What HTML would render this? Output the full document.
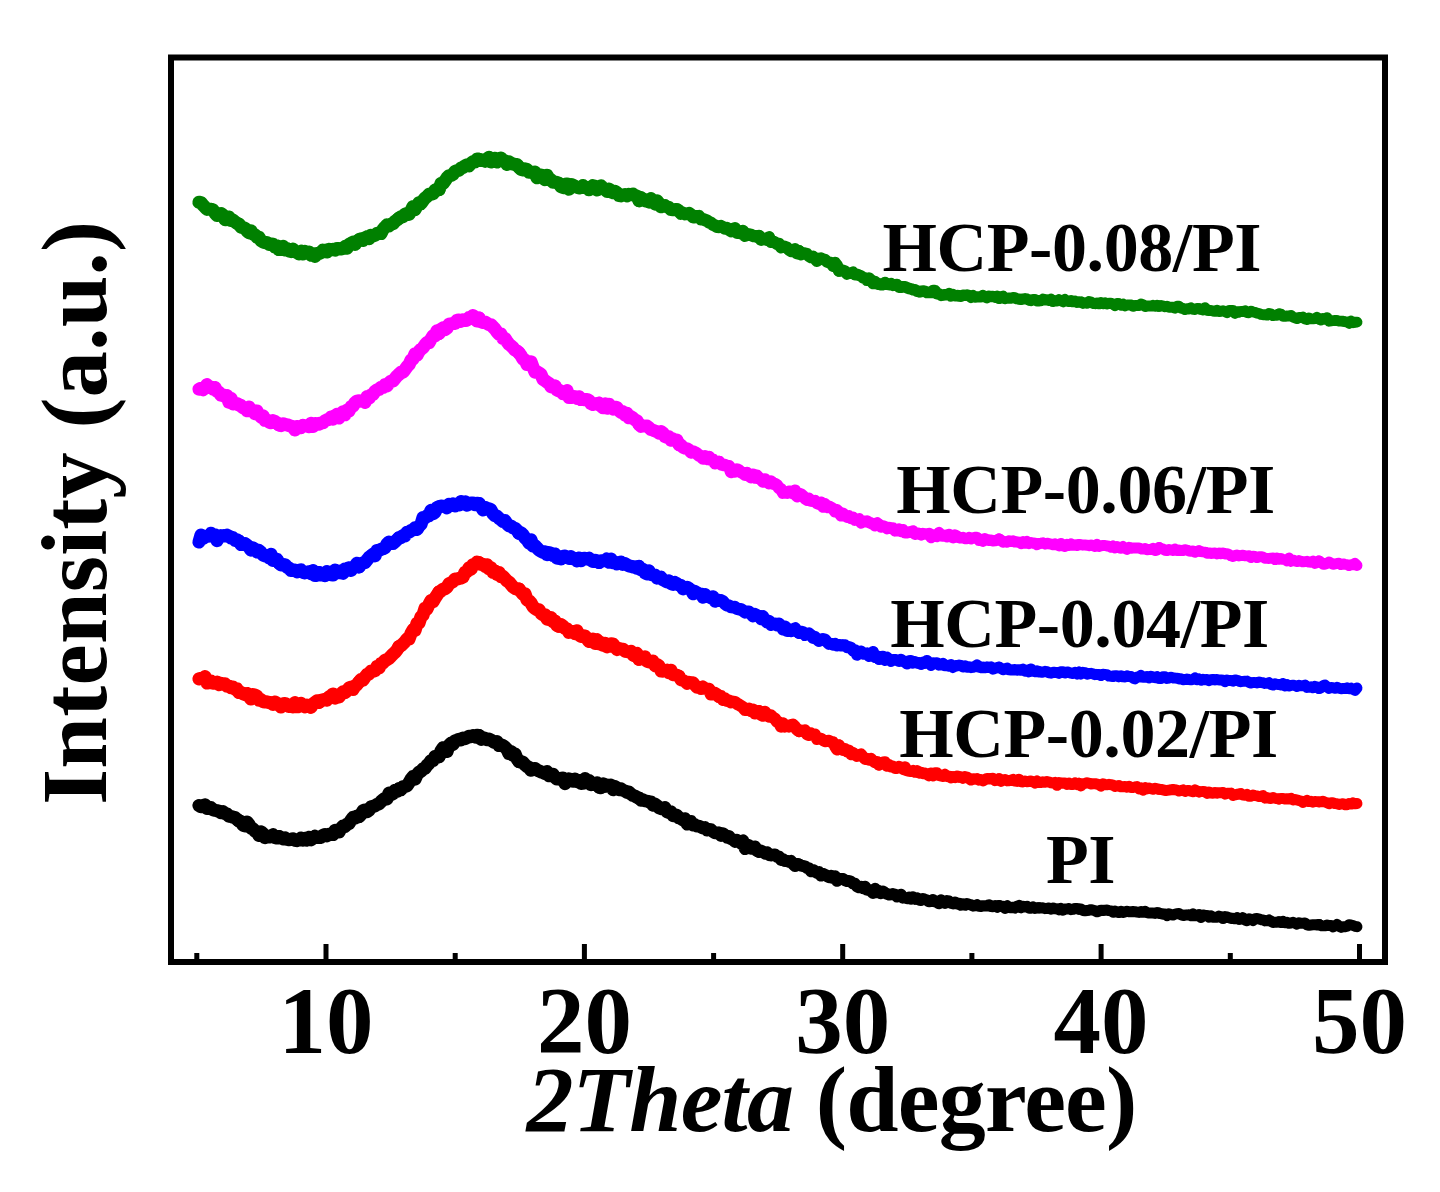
<!DOCTYPE html>
<html><head><meta charset="utf-8"><title>XRD</title>
<style>
html,body{margin:0;padding:0;background:#fff;}
body{width:1440px;height:1192px;overflow:hidden;}
svg{display:block;}
#w{width:1440px;height:1192px;}
text{font-family:"Liberation Serif",serif;font-weight:bold;fill:#000;}
</style></head>
<body>
<div id="w">
<svg width="1440" height="1192" viewBox="0 0 1440 1192">
<rect x="0" y="0" width="1440" height="1192" fill="#fff"/>
<g fill="none" stroke="#000000" stroke-linejoin="round" stroke-linecap="round"><polyline points="199.0,805.5 201.0,806.6 203.0,806.5 205.0,804.8 207.0,808.4 209.0,808.4 211.0,807.7 213.0,809.8 215.0,810.2 217.0,810.8 219.0,811.2 221.0,812.7 223.0,811.8 225.0,813.5 227.0,813.9 229.0,816.3 231.0,816.5 233.0,817.1 235.0,817.6 237.0,819.4 239.0,820.9" stroke-width="13.20"/><polyline points="239.0,820.9 241.0,821.7 243.0,825.0 245.0,825.8 247.0,822.0 249.0,824.4 251.0,828.0 253.0,829.0 255.0,831.0 257.0,832.0 259.0,835.5 261.0,831.9 263.0,833.6 265.0,837.6 267.0,836.3 269.0,836.9 271.0,835.8 273.0,834.8 275.0,837.6 277.0,838.0 279.0,836.6" stroke-width="13.20"/><polyline points="279.0,836.6 281.0,837.7 283.0,838.8 285.0,837.9 287.0,839.3 289.0,839.6 291.0,839.5 293.0,838.8 295.0,840.2 297.0,840.6 299.0,839.7 301.0,838.1 303.0,840.2 305.0,838.4 307.0,840.1 309.0,837.3 311.0,839.8 313.0,838.3 315.0,836.3 317.0,837.3 319.0,837.4" stroke-width="13.20"/><polyline points="319.0,837.4 321.0,837.3 323.0,835.2 325.0,834.6 327.0,835.8 329.0,834.3 331.0,834.5 333.0,834.5 335.0,830.4 337.0,831.9 339.0,831.9 341.0,828.4 343.0,826.1 345.0,826.5 347.0,824.2 349.0,823.5 351.0,820.3 353.0,817.4 355.0,818.0 357.0,816.2 359.0,816.6" stroke-width="13.20"/><polyline points="359.0,816.6 361.0,814.6 363.0,810.8 365.0,810.1 367.0,811.6 369.0,810.1 371.0,807.0 373.0,806.5 375.0,805.8 377.0,804.5 379.0,803.8 381.0,801.6 383.0,799.9 385.0,798.4 387.0,798.8 389.0,793.1 391.0,794.6 393.0,793.6 395.0,790.3 397.0,791.4 399.0,788.8" stroke-width="13.20"/><polyline points="399.0,788.8 401.0,789.6 403.0,786.9 405.0,786.6 407.0,785.7 409.0,782.8 411.0,779.3 413.0,776.6 415.0,779.1 417.0,774.8 419.0,772.1 421.0,771.3 423.0,768.9 425.0,768.4 427.0,765.4 429.0,763.5 431.0,760.7 433.0,760.5 435.0,756.6 437.0,757.2 439.0,756.6" stroke-width="13.20"/><polyline points="439.0,756.6 441.0,750.8 443.0,747.8 445.0,750.4 447.0,751.5 449.0,745.2 451.0,743.3 453.0,744.3 455.0,740.9 457.0,740.2 459.0,739.4 461.0,739.9 463.0,738.1 465.0,738.6 467.0,737.6 469.0,736.3 471.0,736.7 473.0,735.7 475.0,736.9 477.0,735.3 479.0,735.5" stroke-width="13.20"/><polyline points="479.0,735.5 481.0,739.3 483.0,737.7 485.0,738.3 487.0,739.7 489.0,739.1 491.0,740.1 493.0,741.7 495.0,742.4 497.0,741.6 499.0,745.5 501.0,744.8 503.0,745.6 505.0,747.2 507.0,749.3 509.0,753.6 511.0,751.5 513.0,755.2 515.0,753.9 517.0,758.7 519.0,761.6" stroke-width="13.20"/><polyline points="519.0,761.6 521.0,761.6 523.0,762.4 525.0,764.8 527.0,766.5 529.0,767.5 531.0,770.2 533.0,768.7 535.0,768.5 537.0,770.0 539.0,770.9 541.0,771.9 543.0,772.5 545.0,773.4 547.0,771.6 549.0,775.7 551.0,774.4 553.0,774.3 555.0,777.4 557.0,779.0 559.0,778.6" stroke-width="13.20"/><polyline points="559.0,778.6 561.0,778.8 563.0,778.0 565.0,783.6 567.0,781.4 569.0,779.0 571.0,779.7 573.0,781.1 575.0,779.0 577.0,781.5 579.0,780.8 581.0,783.3 583.0,783.2 585.0,778.5 587.0,782.5 589.0,780.6 591.0,784.6 593.0,783.7 595.0,784.6 597.0,782.8 599.0,787.0" stroke-width="13.20"/><polyline points="599.0,787.0 601.0,787.7 603.0,783.9 605.0,786.2 607.0,785.1 609.0,786.4 611.0,785.1 613.0,789.8 615.0,786.5 617.0,787.9 619.0,789.7 621.0,788.9 623.0,790.3 625.0,790.9 627.0,792.5 629.0,792.1 631.0,794.1 633.0,795.4 635.0,796.1 637.0,797.5 639.0,798.0" stroke-width="13.09"/><polyline points="639.0,798.0 641.0,800.3 643.0,799.7 645.0,800.9 647.0,801.1 649.0,802.1 651.0,802.0 653.0,805.3 655.0,804.0 657.0,805.4 659.0,807.8 661.0,808.7 663.0,808.6 665.0,807.5 667.0,811.8 669.0,812.7 671.0,811.6 673.0,815.7 675.0,814.8 677.0,815.3 679.0,818.0" stroke-width="12.87"/><polyline points="679.0,818.0 681.0,818.6 683.0,820.1 685.0,818.6 687.0,824.2 689.0,821.8 691.0,821.4 693.0,825.1 695.0,824.6 697.0,826.2 699.0,826.0 701.0,827.1 703.0,828.2 705.0,827.5 707.0,830.1 709.0,829.3 711.0,829.5 713.0,831.6 715.0,832.9 717.0,832.9 719.0,832.9" stroke-width="12.64"/><polyline points="719.0,832.9 721.0,835.7 723.0,833.4 725.0,835.2 727.0,837.4 729.0,836.3 731.0,839.0 733.0,839.7 735.0,841.7 737.0,840.1 739.0,841.3 741.0,843.4 743.0,840.5 745.0,848.9 747.0,844.6 749.0,845.5 751.0,848.5 753.0,848.1 755.0,846.6 757.0,850.7 759.0,851.7" stroke-width="12.41"/><polyline points="759.0,851.7 761.0,850.7 763.0,851.7 765.0,853.5 767.0,852.3 769.0,854.9 771.0,855.3 773.0,854.8 775.0,854.5 777.0,856.8 779.0,856.6 781.0,859.8 783.0,859.3 785.0,860.9 787.0,860.8 789.0,861.7 791.0,861.0 793.0,863.8 795.0,866.0 797.0,864.0 799.0,864.4" stroke-width="12.19"/><polyline points="799.0,864.4 801.0,865.7 803.0,866.0 805.0,866.3 807.0,868.1 809.0,868.2 811.0,871.3 813.0,870.0 815.0,871.2 817.0,872.9 819.0,872.2 821.0,875.6 823.0,873.9 825.0,874.7 827.0,876.1 829.0,877.1 831.0,875.9 833.0,878.1 835.0,876.3 837.0,880.8 839.0,879.2" stroke-width="11.96"/><polyline points="839.0,879.2 841.0,878.9 843.0,879.0 845.0,880.3 847.0,881.2 849.0,880.8 851.0,881.7 853.0,883.4 855.0,883.7 857.0,886.4 859.0,887.4 861.0,886.7 863.0,888.1 865.0,886.6 867.0,889.9 869.0,889.8 871.0,891.1 873.0,893.1 875.0,888.7 877.0,892.3 879.0,891.0" stroke-width="11.79"/><polyline points="879.0,891.0 881.0,893.4 883.0,891.4 885.0,892.7 887.0,893.9 889.0,894.8 891.0,894.5 893.0,893.9 895.0,894.6 897.0,896.7 899.0,896.1 901.0,894.6 903.0,897.8 905.0,897.6 907.0,898.4 909.0,897.3 911.0,898.8 913.0,897.0 915.0,899.0 917.0,898.1 919.0,899.6" stroke-width="11.64"/><polyline points="919.0,899.6 921.0,900.2 923.0,898.7 925.0,899.7 927.0,900.1 929.0,901.6 931.0,901.4 933.0,899.7 935.0,901.6 937.0,902.1 939.0,903.6 941.0,900.0 943.0,901.3 945.0,903.3 947.0,900.8 949.0,901.2 951.0,903.0 953.0,903.7 955.0,902.4 957.0,903.7 959.0,903.6" stroke-width="11.48"/><polyline points="959.0,903.6 961.0,905.1 963.0,904.0 965.0,905.1 967.0,903.6 969.0,904.5 971.0,904.8 973.0,906.0 975.0,905.7 977.0,904.8 979.0,906.2 981.0,906.4 983.0,905.8 985.0,905.8 987.0,905.9 989.0,904.9 991.0,906.4 993.0,906.6 995.0,905.8 997.0,907.1 999.0,905.6" stroke-width="11.33"/><polyline points="999.0,905.6 1001.0,906.3 1003.0,906.4 1005.0,908.3 1007.0,905.7 1009.0,907.4 1011.0,907.7 1013.0,907.3 1015.0,908.0 1017.0,906.4 1019.0,905.5 1021.0,907.8 1023.0,906.3 1025.0,907.0 1027.0,906.4 1029.0,908.2 1031.0,908.1 1033.0,907.0 1035.0,908.3 1037.0,907.9 1039.0,907.8" stroke-width="11.18"/><polyline points="1039.0,907.8 1041.0,908.0 1043.0,907.9 1045.0,908.6 1047.0,908.4 1049.0,908.0 1051.0,909.1 1053.0,908.0 1055.0,908.8 1057.0,908.9 1059.0,909.8 1061.0,908.4 1063.0,910.2 1065.0,909.1 1067.0,908.9 1069.0,908.6 1071.0,909.6 1073.0,909.3 1075.0,908.5 1077.0,908.6 1079.0,909.1" stroke-width="11.09"/><polyline points="1079.0,909.1 1081.0,909.1 1083.0,910.5 1085.0,910.8 1087.0,910.5 1089.0,910.2 1091.0,909.7 1093.0,910.1 1095.0,910.8 1097.0,911.8 1099.0,911.0 1101.0,910.2 1103.0,910.5 1105.0,910.2 1107.0,910.1 1109.0,910.6 1111.0,910.9 1113.0,912.2 1115.0,911.0 1117.0,912.1 1119.0,912.4" stroke-width="11.06"/><polyline points="1119.0,912.4 1121.0,911.3 1123.0,912.5 1125.0,911.9 1127.0,911.2 1129.0,911.8 1131.0,911.7 1133.0,911.6 1135.0,911.7 1137.0,912.1 1139.0,912.4 1141.0,911.5 1143.0,912.3 1145.0,911.3 1147.0,912.7 1149.0,913.1 1151.0,912.9 1153.0,913.1 1155.0,913.4 1157.0,912.6 1159.0,913.1" stroke-width="11.04"/><polyline points="1159.0,913.1 1161.0,913.7 1163.0,914.2 1165.0,913.9 1167.0,915.6 1169.0,913.8 1171.0,914.7 1173.0,915.1 1175.0,914.1 1177.0,913.8 1179.0,913.6 1181.0,914.7 1183.0,915.6 1185.0,915.1 1187.0,915.1 1189.0,914.8 1191.0,915.7 1193.0,913.8 1195.0,915.7 1197.0,915.7 1199.0,914.7" stroke-width="11.01"/><polyline points="1199.0,914.7 1201.0,917.5 1203.0,915.0 1205.0,915.4 1207.0,915.4 1209.0,917.2 1211.0,915.9 1213.0,917.2 1215.0,917.3 1217.0,917.2 1219.0,916.1 1221.0,916.8 1223.0,918.6 1225.0,916.6 1227.0,917.0 1229.0,917.7 1231.0,918.5 1233.0,918.3 1235.0,918.8 1237.0,917.6 1239.0,919.2" stroke-width="10.99"/><polyline points="1239.0,919.2 1241.0,919.1 1243.0,917.6 1245.0,920.1 1247.0,920.8 1249.0,918.7 1251.0,919.4 1253.0,920.6 1255.0,918.6 1257.0,918.4 1259.0,919.0 1261.0,919.7 1263.0,919.9 1265.0,920.9 1267.0,920.8 1269.0,919.9 1271.0,921.4 1273.0,922.5 1275.0,922.2 1277.0,922.2 1279.0,921.7" stroke-width="10.96"/><polyline points="1279.0,921.7 1281.0,922.6 1283.0,921.3 1285.0,922.8 1287.0,922.3 1289.0,923.4 1291.0,923.1 1293.0,922.2 1295.0,923.3 1297.0,924.2 1299.0,922.7 1301.0,923.3 1303.0,923.3 1305.0,922.9 1307.0,924.9 1309.0,925.3 1311.0,925.0 1313.0,924.8 1315.0,924.7 1317.0,925.0 1319.0,924.4" stroke-width="10.94"/><polyline points="1319.0,924.4 1321.0,925.7 1323.0,925.9 1325.0,925.9 1327.0,924.9 1329.0,925.5 1331.0,925.4 1333.0,926.9 1335.0,925.8 1337.0,924.4 1339.0,926.2 1341.0,927.4 1343.0,926.6 1345.0,926.8 1347.0,926.2 1349.0,924.8 1351.0,925.0 1353.0,925.5 1355.0,926.3 1357.0,926.7" stroke-width="10.91"/></g>
<g fill="none" stroke="#ff0000" stroke-linejoin="round" stroke-linecap="round"><polyline points="199.0,678.8 201.0,678.3 203.0,679.0 205.0,676.7 207.0,683.0 209.0,682.6 211.0,681.1 213.0,683.1 215.0,682.9 217.0,682.2 219.0,684.7 221.0,683.4 223.0,683.9 225.0,683.8 227.0,686.1 229.0,686.0 231.0,687.7 233.0,687.1 235.0,689.2 237.0,688.9 239.0,692.4" stroke-width="13.20"/><polyline points="239.0,692.4 241.0,692.6 243.0,693.7 245.0,694.6 247.0,693.5 249.0,696.6 251.0,699.0 253.0,694.7 255.0,695.2 257.0,696.2 259.0,700.0 261.0,699.7 263.0,701.7 265.0,701.9 267.0,701.9 269.0,702.6 271.0,702.5 273.0,704.4 275.0,702.0 277.0,703.3 279.0,704.6" stroke-width="13.20"/><polyline points="279.0,704.6 281.0,707.0 283.0,703.7 285.0,703.5 287.0,704.4 289.0,706.5 291.0,704.9 293.0,707.0 295.0,702.7 297.0,706.7 299.0,706.6 301.0,703.3 303.0,705.4 305.0,706.8 307.0,705.1 309.0,705.9 311.0,707.3 313.0,703.8 315.0,702.4 317.0,701.0 319.0,702.3" stroke-width="13.20"/><polyline points="319.0,702.3 321.0,700.5 323.0,700.0 325.0,699.5 327.0,700.0 329.0,697.1 331.0,695.8 333.0,694.0 335.0,698.1 337.0,695.8 339.0,696.9 341.0,694.0 343.0,692.0 345.0,692.6 347.0,690.8 349.0,688.0 351.0,687.3 353.0,689.5 355.0,686.1 357.0,684.6 359.0,682.0" stroke-width="13.20"/><polyline points="359.0,682.0 361.0,679.7 363.0,680.1 365.0,677.1 367.0,674.6 369.0,673.9 371.0,671.2 373.0,671.1 375.0,670.8 377.0,666.5 379.0,667.9 381.0,663.5 383.0,663.1 385.0,660.2 387.0,659.6 389.0,658.4 391.0,656.2 393.0,654.1 395.0,652.3 397.0,650.0 399.0,646.6" stroke-width="13.20"/><polyline points="399.0,646.6 401.0,645.6 403.0,643.7 405.0,641.8 407.0,638.9 409.0,638.9 411.0,633.5 413.0,629.9 415.0,630.4 417.0,623.4 419.0,622.9 421.0,616.8 423.0,615.0 425.0,608.3 427.0,608.8 429.0,604.4 431.0,600.6 433.0,601.7 435.0,598.2 437.0,595.1 439.0,592.0" stroke-width="13.20"/><polyline points="439.0,592.0 441.0,591.1 443.0,589.1 445.0,588.7 447.0,587.2 449.0,583.8 451.0,582.7 453.0,581.5 455.0,579.2 457.0,579.1 459.0,578.4 461.0,578.0 463.0,577.1 465.0,572.1 467.0,571.6 469.0,567.9 471.0,569.2 473.0,564.7 475.0,564.4 477.0,562.2 479.0,562.6" stroke-width="13.20"/><polyline points="479.0,562.6 481.0,564.5 483.0,564.4 485.0,566.3 487.0,564.8 489.0,568.8 491.0,567.8 493.0,572.5 495.0,571.0 497.0,574.3 499.0,572.5 501.0,576.5 503.0,576.4 505.0,578.6 507.0,580.9 509.0,582.1 511.0,584.5 513.0,586.8 515.0,588.4 517.0,589.1 519.0,589.1" stroke-width="13.20"/><polyline points="519.0,589.1 521.0,591.7 523.0,594.4 525.0,593.9 527.0,599.9 529.0,600.8 531.0,603.0 533.0,606.7 535.0,608.4 537.0,609.7 539.0,609.8 541.0,613.3 543.0,614.9 545.0,614.8 547.0,618.9 549.0,619.6 551.0,617.6 553.0,621.7 555.0,621.0 557.0,625.5 559.0,626.2" stroke-width="13.20"/><polyline points="559.0,626.2 561.0,624.7 563.0,626.1 565.0,628.4 567.0,628.9 569.0,632.3 571.0,632.1 573.0,631.6 575.0,633.6 577.0,630.9 579.0,634.8 581.0,636.4 583.0,635.8 585.0,636.0 587.0,638.6 589.0,641.4 591.0,640.0 593.0,639.1 595.0,643.4 597.0,639.7 599.0,643.6" stroke-width="13.20"/><polyline points="599.0,643.6 601.0,642.7 603.0,645.3 605.0,643.4 607.0,646.9 609.0,646.0 611.0,643.7 613.0,643.9 615.0,646.6 617.0,649.4 619.0,648.4 621.0,649.0 623.0,649.2 625.0,651.2 627.0,651.5 629.0,652.1 631.0,651.2 633.0,655.0 635.0,656.1 637.0,653.4 639.0,659.3" stroke-width="13.09"/><polyline points="639.0,659.3 641.0,658.2 643.0,657.6 645.0,656.8 647.0,661.3 649.0,662.1 651.0,661.6 653.0,660.9 655.0,665.8 657.0,664.5 659.0,665.6 661.0,671.1 663.0,671.2 665.0,670.8 667.0,670.1 669.0,672.8 671.0,670.2 673.0,674.7 675.0,674.8 677.0,675.3 679.0,676.1" stroke-width="12.87"/><polyline points="679.0,676.1 681.0,680.0 683.0,680.4 685.0,681.5 687.0,683.4 689.0,682.1 691.0,682.5 693.0,682.6 695.0,685.3 697.0,687.5 699.0,687.0 701.0,688.7 703.0,686.9 705.0,688.5 707.0,688.8 709.0,689.0 711.0,694.2 713.0,694.0 715.0,693.1 717.0,694.5 719.0,696.8" stroke-width="12.64"/><polyline points="719.0,696.8 721.0,696.2 723.0,699.9 725.0,698.6 727.0,700.7 729.0,700.7 731.0,702.2 733.0,701.8 735.0,702.1 737.0,703.7 739.0,704.8 741.0,706.0 743.0,707.2 745.0,709.9 747.0,709.6 749.0,708.8 751.0,710.8 753.0,709.7 755.0,713.3 757.0,712.8 759.0,711.1" stroke-width="12.41"/><polyline points="759.0,711.1 761.0,714.7 763.0,715.7 765.0,711.8 767.0,715.3 769.0,716.5 771.0,715.5 773.0,717.6 775.0,718.8 777.0,721.7 779.0,722.5 781.0,726.6 783.0,723.4 785.0,726.4 787.0,725.6 789.0,726.5 791.0,725.2 793.0,724.7 795.0,726.8 797.0,729.5 799.0,731.2" stroke-width="12.19"/><polyline points="799.0,731.2 801.0,730.5 803.0,731.2 805.0,730.2 807.0,734.3 809.0,735.0 811.0,733.4 813.0,735.0 815.0,734.6 817.0,738.9 819.0,738.4 821.0,738.6 823.0,740.2 825.0,741.2 827.0,741.0 829.0,740.8 831.0,741.8 833.0,742.2 835.0,746.1 837.0,749.5 839.0,745.3" stroke-width="11.96"/><polyline points="839.0,745.3 841.0,748.7 843.0,750.0 845.0,749.0 847.0,751.4 849.0,750.5 851.0,754.4 853.0,752.8 855.0,754.5 857.0,756.1 859.0,755.3 861.0,754.3 863.0,756.7 865.0,759.1 867.0,758.7 869.0,759.8 871.0,758.7 873.0,760.9 875.0,762.3 877.0,762.0 879.0,764.8" stroke-width="11.79"/><polyline points="879.0,764.8 881.0,762.8 883.0,762.3 885.0,762.1 887.0,766.0 889.0,765.0 891.0,766.7 893.0,766.4 895.0,768.2 897.0,768.1 899.0,766.6 901.0,767.7 903.0,769.1 905.0,767.0 907.0,770.6 909.0,770.9 911.0,771.3 913.0,770.7 915.0,771.9 917.0,770.9 919.0,772.7" stroke-width="11.64"/><polyline points="919.0,772.7 921.0,772.4 923.0,773.5 925.0,773.2 927.0,774.3 929.0,775.5 931.0,773.2 933.0,775.7 935.0,773.0 937.0,773.1 939.0,775.4 941.0,775.7 943.0,776.3 945.0,774.5 947.0,776.2 949.0,776.5 951.0,777.8 953.0,776.7 955.0,777.4 957.0,776.2 959.0,777.0" stroke-width="11.48"/><polyline points="959.0,777.0 961.0,777.0 963.0,778.2 965.0,776.8 967.0,777.2 969.0,778.6 971.0,779.9 973.0,778.9 975.0,779.1 977.0,778.7 979.0,780.0 981.0,779.7 983.0,780.7 985.0,779.6 987.0,778.6 989.0,778.9 991.0,778.6 993.0,778.5 995.0,780.5 997.0,780.2 999.0,778.8" stroke-width="11.33"/><polyline points="999.0,778.8 1001.0,781.2 1003.0,780.2 1005.0,779.6 1007.0,780.8 1009.0,780.6 1011.0,780.2 1013.0,779.5 1015.0,781.0 1017.0,781.3 1019.0,779.3 1021.0,781.7 1023.0,781.8 1025.0,781.1 1027.0,781.6 1029.0,781.4 1031.0,781.1 1033.0,781.6 1035.0,783.0 1037.0,781.1 1039.0,782.4" stroke-width="11.18"/><polyline points="1039.0,782.4 1041.0,782.5 1043.0,781.9 1045.0,782.2 1047.0,781.6 1049.0,782.1 1051.0,782.8 1053.0,783.1 1055.0,782.3 1057.0,785.3 1059.0,782.7 1061.0,783.2 1063.0,783.0 1065.0,783.0 1067.0,784.3 1069.0,783.1 1071.0,784.5 1073.0,784.4 1075.0,782.9 1077.0,784.5 1079.0,783.3" stroke-width="11.09"/><polyline points="1079.0,783.3 1081.0,785.9 1083.0,783.7 1085.0,783.4 1087.0,782.7 1089.0,783.3 1091.0,783.9 1093.0,783.7 1095.0,783.7 1097.0,784.2 1099.0,784.7 1101.0,786.0 1103.0,783.8 1105.0,784.8 1107.0,784.7 1109.0,784.4 1111.0,784.7 1113.0,785.1 1115.0,786.4 1117.0,785.9 1119.0,785.8" stroke-width="11.06"/><polyline points="1119.0,785.8 1121.0,786.8 1123.0,786.7 1125.0,786.5 1127.0,787.1 1129.0,786.3 1131.0,787.5 1133.0,787.5 1135.0,787.0 1137.0,786.6 1139.0,788.8 1141.0,787.8 1143.0,790.2 1145.0,787.6 1147.0,788.9 1149.0,788.1 1151.0,788.7 1153.0,789.3 1155.0,788.3 1157.0,788.9 1159.0,789.3" stroke-width="11.04"/><polyline points="1159.0,789.3 1161.0,789.4 1163.0,789.9 1165.0,790.4 1167.0,790.4 1169.0,790.1 1171.0,789.8 1173.0,789.4 1175.0,789.8 1177.0,790.1 1179.0,791.1 1181.0,790.5 1183.0,789.9 1185.0,791.4 1187.0,790.5 1189.0,790.6 1191.0,791.2 1193.0,791.8 1195.0,789.8 1197.0,790.8 1199.0,791.9" stroke-width="11.01"/><polyline points="1199.0,791.9 1201.0,791.6 1203.0,791.4 1205.0,791.7 1207.0,793.3 1209.0,792.0 1211.0,793.0 1213.0,793.2 1215.0,792.4 1217.0,793.2 1219.0,792.7 1221.0,792.7 1223.0,792.4 1225.0,794.1 1227.0,793.3 1229.0,793.3 1231.0,793.1 1233.0,795.4 1235.0,794.8 1237.0,794.3 1239.0,794.1" stroke-width="10.99"/><polyline points="1239.0,794.1 1241.0,793.6 1243.0,795.1 1245.0,795.3 1247.0,794.3 1249.0,796.3 1251.0,796.2 1253.0,795.1 1255.0,795.6 1257.0,795.9 1259.0,796.6 1261.0,796.5 1263.0,795.6 1265.0,798.1 1267.0,797.4 1269.0,798.3 1271.0,798.5 1273.0,797.6 1275.0,798.2 1277.0,798.7 1279.0,799.0" stroke-width="10.96"/><polyline points="1279.0,799.0 1281.0,798.5 1283.0,798.4 1285.0,799.1 1287.0,798.7 1289.0,799.1 1291.0,798.2 1293.0,800.0 1295.0,799.4 1297.0,800.0 1299.0,800.6 1301.0,801.0 1303.0,802.4 1305.0,801.3 1307.0,800.3 1309.0,801.6 1311.0,801.3 1313.0,802.2 1315.0,801.5 1317.0,801.6 1319.0,801.9" stroke-width="10.94"/><polyline points="1319.0,801.9 1321.0,801.9 1323.0,801.2 1325.0,802.1 1327.0,802.7 1329.0,803.8 1331.0,802.8 1333.0,802.8 1335.0,803.6 1337.0,803.7 1339.0,804.6 1341.0,804.0 1343.0,803.6 1345.0,804.7 1347.0,804.9 1349.0,803.5 1351.0,804.1 1353.0,802.8 1355.0,803.8 1357.0,803.5" stroke-width="10.91"/></g>
<g fill="none" stroke="#0000ff" stroke-linejoin="round" stroke-linecap="round"><polyline points="199.0,542.0 201.0,535.1 203.0,538.4 205.0,536.5 207.0,536.1 209.0,536.1 211.0,533.4 213.0,535.7 215.0,534.9 217.0,540.6 219.0,536.4 221.0,535.7 223.0,535.9 225.0,535.6 227.0,535.2 229.0,536.3 231.0,538.0 233.0,537.7 235.0,540.3 237.0,539.8 239.0,541.2" stroke-width="13.20"/><polyline points="239.0,541.2 241.0,544.4 243.0,544.1 245.0,543.7 247.0,545.1 249.0,547.1 251.0,550.1 253.0,548.1 255.0,549.2 257.0,552.0 259.0,550.5 261.0,552.4 263.0,555.0 265.0,555.7 267.0,556.1 269.0,557.9 271.0,554.3 273.0,560.5 275.0,559.0 277.0,559.2 279.0,563.0" stroke-width="13.20"/><polyline points="279.0,563.0 281.0,564.8 283.0,564.5 285.0,564.7 287.0,567.2 289.0,567.9 291.0,570.5 293.0,570.2 295.0,570.0 297.0,571.7 299.0,570.4 301.0,569.9 303.0,572.3 305.0,572.8 307.0,572.2 309.0,571.9 311.0,573.8 313.0,570.6 315.0,575.3 317.0,575.3 319.0,572.6" stroke-width="13.20"/><polyline points="319.0,572.6 321.0,574.9 323.0,573.5 325.0,575.6 327.0,571.6 329.0,572.8 331.0,574.7 333.0,574.9 335.0,570.1 337.0,572.0 339.0,572.6 341.0,570.9 343.0,573.3 345.0,569.0 347.0,570.4 349.0,567.9 351.0,570.4 353.0,567.7 355.0,566.2 357.0,563.3 359.0,566.8" stroke-width="13.20"/><polyline points="359.0,566.8 361.0,564.3 363.0,563.1 365.0,562.4 367.0,560.0 369.0,557.4 371.0,555.8 373.0,554.3 375.0,555.8 377.0,550.5 379.0,550.3 381.0,549.3 383.0,548.7 385.0,547.8 387.0,544.0 389.0,542.1 391.0,543.1 393.0,543.5 395.0,541.6 397.0,539.7 399.0,537.8" stroke-width="13.20"/><polyline points="399.0,537.8 401.0,537.5 403.0,535.6 405.0,535.8 407.0,532.3 409.0,532.2 411.0,530.5 413.0,529.9 415.0,527.9 417.0,529.4 419.0,526.2 421.0,524.3 423.0,517.6 425.0,517.9 427.0,515.8 429.0,515.7 431.0,510.4 433.0,513.6 435.0,512.1 437.0,507.7 439.0,506.9" stroke-width="13.20"/><polyline points="439.0,506.9 441.0,506.1 443.0,506.3 445.0,506.4 447.0,507.8 449.0,504.3 451.0,505.2 453.0,504.0 455.0,505.9 457.0,504.2 459.0,504.9 461.0,501.6 463.0,502.8 465.0,502.0 467.0,505.2 469.0,504.2 471.0,503.1 473.0,503.1 475.0,504.6 477.0,503.3 479.0,503.5" stroke-width="13.20"/><polyline points="479.0,503.5 481.0,506.2 483.0,509.9 485.0,507.5 487.0,508.3 489.0,508.8 491.0,509.9 493.0,513.8 495.0,515.7 497.0,516.2 499.0,518.3 501.0,519.7 503.0,521.4 505.0,520.8 507.0,523.7 509.0,525.9 511.0,526.0 513.0,527.7 515.0,528.4 517.0,530.3 519.0,533.2" stroke-width="13.20"/><polyline points="519.0,533.2 521.0,532.9 523.0,534.8 525.0,537.9 527.0,539.6 529.0,543.0 531.0,539.9 533.0,545.8 535.0,545.7 537.0,547.9 539.0,550.0 541.0,551.3 543.0,552.2 545.0,551.8 547.0,554.6 549.0,552.7 551.0,553.5 553.0,555.3 555.0,554.0 557.0,558.1 559.0,557.0" stroke-width="13.20"/><polyline points="559.0,557.0 561.0,558.9 563.0,556.3 565.0,556.2 567.0,557.2 569.0,558.3 571.0,556.9 573.0,558.6 575.0,558.4 577.0,560.9 579.0,558.1 581.0,560.7 583.0,558.6 585.0,558.3 587.0,558.8 589.0,558.2 591.0,560.1 593.0,561.4 595.0,560.3 597.0,561.0 599.0,562.5" stroke-width="13.20"/><polyline points="599.0,562.5 601.0,560.8 603.0,560.9 605.0,560.5 607.0,558.9 609.0,562.3 611.0,559.1 613.0,562.6 615.0,562.0 617.0,563.9 619.0,562.7 621.0,562.1 623.0,564.3 625.0,563.6 627.0,564.8 629.0,565.8 631.0,566.3 633.0,566.9 635.0,566.7 637.0,568.3 639.0,566.4" stroke-width="13.09"/><polyline points="639.0,566.4 641.0,569.8 643.0,569.1 645.0,573.1 647.0,574.1 649.0,570.7 651.0,574.5 653.0,575.1 655.0,575.0 657.0,578.2 659.0,577.9 661.0,577.1 663.0,580.0 665.0,580.9 667.0,581.9 669.0,580.7 671.0,583.7 673.0,584.4 675.0,582.4 677.0,583.6 679.0,585.1" stroke-width="12.87"/><polyline points="679.0,585.1 681.0,585.2 683.0,589.1 685.0,587.8 687.0,587.0 689.0,588.2 691.0,590.0 693.0,594.0 695.0,591.4 697.0,592.5 699.0,593.7 701.0,593.7 703.0,597.5 705.0,594.4 707.0,596.8 709.0,596.7 711.0,598.1 713.0,596.5 715.0,601.3 717.0,599.6 719.0,600.7" stroke-width="12.64"/><polyline points="719.0,600.7 721.0,600.2 723.0,601.4 725.0,603.9 727.0,605.3 729.0,605.7 731.0,607.1 733.0,607.2 735.0,607.0 737.0,608.8 739.0,609.3 741.0,609.1 743.0,610.9 745.0,612.4 747.0,611.7 749.0,611.6 751.0,613.8 753.0,616.2 755.0,614.2 757.0,615.3 759.0,616.2" stroke-width="12.41"/><polyline points="759.0,616.2 761.0,619.2 763.0,616.2 765.0,620.3 767.0,622.5 769.0,620.8 771.0,624.8 773.0,624.3 775.0,623.6 777.0,625.3 779.0,623.6 781.0,625.6 783.0,629.5 785.0,626.5 787.0,630.9 789.0,629.0 791.0,631.1 793.0,630.6 795.0,628.2 797.0,631.2 799.0,632.9" stroke-width="12.19"/><polyline points="799.0,632.9 801.0,631.7 803.0,632.1 805.0,635.0 807.0,634.2 809.0,633.4 811.0,635.3 813.0,638.0 815.0,636.8 817.0,639.4 819.0,641.0 821.0,639.7 823.0,639.0 825.0,639.5 827.0,642.0 829.0,643.9 831.0,643.7 833.0,644.7 835.0,643.9 837.0,645.5 839.0,645.0" stroke-width="11.96"/><polyline points="839.0,645.0 841.0,645.7 843.0,645.0 845.0,645.2 847.0,647.3 849.0,647.0 851.0,647.8 853.0,650.6 855.0,650.2 857.0,654.8 859.0,652.8 861.0,651.3 863.0,653.8 865.0,653.9 867.0,653.2 869.0,656.1 871.0,654.3 873.0,651.9 875.0,657.2 877.0,656.0 879.0,659.0" stroke-width="11.79"/><polyline points="879.0,659.0 881.0,656.8 883.0,656.6 885.0,660.2 887.0,657.4 889.0,659.3 891.0,661.0 893.0,659.7 895.0,659.7 897.0,660.1 899.0,661.2 901.0,659.5 903.0,661.4 905.0,661.6 907.0,663.8 909.0,661.1 911.0,660.8 913.0,662.9 915.0,661.9 917.0,662.9 919.0,662.9" stroke-width="11.64"/><polyline points="919.0,662.9 921.0,664.2 923.0,662.4 925.0,663.1 927.0,660.7 929.0,662.6 931.0,665.2 933.0,663.1 935.0,663.2 937.0,662.9 939.0,664.9 941.0,664.7 943.0,663.6 945.0,665.6 947.0,665.4 949.0,666.0 951.0,664.9 953.0,667.2 955.0,666.0 957.0,665.6 959.0,665.4" stroke-width="11.48"/><polyline points="959.0,665.4 961.0,665.7 963.0,666.8 965.0,665.9 967.0,667.1 969.0,666.8 971.0,667.5 973.0,667.2 975.0,666.5 977.0,665.1 979.0,667.1 981.0,667.6 983.0,667.2 985.0,667.7 987.0,667.0 989.0,667.3 991.0,667.0 993.0,669.0 995.0,668.2 997.0,667.8 999.0,667.3" stroke-width="11.33"/><polyline points="999.0,667.3 1001.0,668.3 1003.0,669.6 1005.0,668.9 1007.0,668.1 1009.0,669.8 1011.0,670.0 1013.0,669.8 1015.0,669.7 1017.0,670.1 1019.0,669.8 1021.0,670.2 1023.0,669.2 1025.0,671.0 1027.0,670.2 1029.0,671.8 1031.0,669.0 1033.0,671.2 1035.0,671.7 1037.0,670.9 1039.0,671.7" stroke-width="11.18"/><polyline points="1039.0,671.7 1041.0,672.1 1043.0,672.1 1045.0,671.4 1047.0,671.8 1049.0,672.8 1051.0,673.1 1053.0,672.3 1055.0,672.4 1057.0,672.6 1059.0,673.3 1061.0,671.8 1063.0,671.7 1065.0,672.9 1067.0,672.0 1069.0,672.5 1071.0,673.1 1073.0,673.5 1075.0,672.4 1077.0,673.9 1079.0,672.0" stroke-width="11.09"/><polyline points="1079.0,672.0 1081.0,673.9 1083.0,672.4 1085.0,672.7 1087.0,674.2 1089.0,673.6 1091.0,673.4 1093.0,673.8 1095.0,674.6 1097.0,674.4 1099.0,674.5 1101.0,675.5 1103.0,674.3 1105.0,674.6 1107.0,674.7 1109.0,676.1 1111.0,676.2 1113.0,676.5 1115.0,675.7 1117.0,675.7 1119.0,676.6" stroke-width="11.06"/><polyline points="1119.0,676.6 1121.0,675.8 1123.0,676.8 1125.0,676.9 1127.0,675.9 1129.0,676.5 1131.0,676.6 1133.0,678.0 1135.0,678.8 1137.0,676.9 1139.0,677.0 1141.0,675.4 1143.0,677.3 1145.0,677.2 1147.0,676.5 1149.0,677.9 1151.0,676.3 1153.0,677.3 1155.0,677.7 1157.0,676.7 1159.0,678.3" stroke-width="11.04"/><polyline points="1159.0,678.3 1161.0,678.5 1163.0,676.8 1165.0,676.8 1167.0,678.4 1169.0,678.0 1171.0,677.2 1173.0,677.9 1175.0,678.1 1177.0,678.2 1179.0,679.0 1181.0,678.7 1183.0,679.8 1185.0,679.6 1187.0,679.1 1189.0,679.5 1191.0,679.8 1193.0,679.4 1195.0,678.0 1197.0,679.6 1199.0,679.1" stroke-width="11.01"/><polyline points="1199.0,679.1 1201.0,680.3 1203.0,679.3 1205.0,679.7 1207.0,679.6 1209.0,680.7 1211.0,679.7 1213.0,679.4 1215.0,679.9 1217.0,679.5 1219.0,680.0 1221.0,680.0 1223.0,680.3 1225.0,681.6 1227.0,680.0 1229.0,680.5 1231.0,680.4 1233.0,681.2 1235.0,679.9 1237.0,680.4 1239.0,681.1" stroke-width="10.99"/><polyline points="1239.0,681.1 1241.0,681.7 1243.0,681.4 1245.0,681.2 1247.0,681.1 1249.0,682.3 1251.0,683.1 1253.0,682.5 1255.0,682.5 1257.0,682.9 1259.0,682.0 1261.0,682.6 1263.0,682.8 1265.0,683.4 1267.0,683.3 1269.0,682.6 1271.0,684.5 1273.0,685.1 1275.0,683.8 1277.0,684.4 1279.0,684.5" stroke-width="10.96"/><polyline points="1279.0,684.5 1281.0,685.1 1283.0,683.5 1285.0,686.0 1287.0,684.6 1289.0,686.1 1291.0,685.4 1293.0,685.2 1295.0,685.6 1297.0,686.5 1299.0,685.3 1301.0,685.8 1303.0,685.9 1305.0,685.1 1307.0,687.5 1309.0,687.1 1311.0,686.8 1313.0,687.8 1315.0,686.3 1317.0,687.0 1319.0,688.5" stroke-width="10.94"/><polyline points="1319.0,688.5 1321.0,688.0 1323.0,685.7 1325.0,685.0 1327.0,686.8 1329.0,688.4 1331.0,687.4 1333.0,687.6 1335.0,688.3 1337.0,687.3 1339.0,688.2 1341.0,688.7 1343.0,688.5 1345.0,688.5 1347.0,687.8 1349.0,688.7 1351.0,688.1 1353.0,689.4 1355.0,690.4 1357.0,688.0" stroke-width="10.91"/></g>
<g fill="none" stroke="#ff00ff" stroke-linejoin="round" stroke-linecap="round"><polyline points="199.0,389.2 201.0,388.3 203.0,389.7 205.0,387.8 207.0,384.7 209.0,387.3 211.0,387.1 213.0,389.0 215.0,387.6 217.0,391.2 219.0,392.3 221.0,395.2 223.0,394.8 225.0,396.6 227.0,395.5 229.0,402.3 231.0,398.3 233.0,403.9 235.0,403.3 237.0,403.7 239.0,404.9" stroke-width="13.20"/><polyline points="239.0,404.9 241.0,405.6 243.0,407.8 245.0,407.8 247.0,410.7 249.0,407.0 251.0,410.4 253.0,410.2 255.0,413.7 257.0,411.1 259.0,414.8 261.0,416.9 263.0,415.8 265.0,420.2 267.0,420.1 269.0,422.0 271.0,422.7 273.0,420.7 275.0,421.6 277.0,423.0 279.0,424.8" stroke-width="13.20"/><polyline points="279.0,424.8 281.0,425.5 283.0,423.8 285.0,424.5 287.0,424.7 289.0,425.4 291.0,426.3 293.0,426.7 295.0,429.9 297.0,426.5 299.0,426.7 301.0,427.6 303.0,425.4 305.0,425.9 307.0,426.0 309.0,426.6 311.0,423.4 313.0,426.5 315.0,423.7 317.0,423.8 319.0,424.0" stroke-width="13.20"/><polyline points="319.0,424.0 321.0,423.0 323.0,422.8 325.0,420.8 327.0,419.8 329.0,419.5 331.0,417.0 333.0,419.2 335.0,415.8 337.0,414.4 339.0,418.0 341.0,414.2 343.0,411.8 345.0,414.7 347.0,410.4 349.0,410.9 351.0,406.8 353.0,406.1 355.0,402.7 357.0,401.0 359.0,401.0" stroke-width="13.20"/><polyline points="359.0,401.0 361.0,401.0 363.0,401.1 365.0,402.3 367.0,396.6 369.0,398.3 371.0,395.0 373.0,394.4 375.0,391.3 377.0,389.9 379.0,389.4 381.0,387.3 383.0,387.4 385.0,384.8 387.0,385.9 389.0,382.8 391.0,381.2 393.0,380.9 395.0,378.5 397.0,376.1 399.0,374.3" stroke-width="13.20"/><polyline points="399.0,374.3 401.0,372.4 403.0,372.1 405.0,369.6 407.0,366.7 409.0,364.7 411.0,360.2 413.0,359.0 415.0,353.9 417.0,355.3 419.0,351.4 421.0,349.3 423.0,347.8 425.0,344.9 427.0,342.6 429.0,342.6 431.0,339.2 433.0,335.8 435.0,335.7 437.0,330.8 439.0,333.5" stroke-width="13.20"/><polyline points="439.0,333.5 441.0,329.3 443.0,328.0 445.0,329.6 447.0,328.2 449.0,324.3 451.0,323.9 453.0,323.5 455.0,323.4 457.0,320.2 459.0,320.0 461.0,321.2 463.0,319.8 465.0,320.4 467.0,320.1 469.0,317.7 471.0,318.0 473.0,315.6 475.0,318.8 477.0,321.0 479.0,318.0" stroke-width="13.20"/><polyline points="479.0,318.0 481.0,321.8 483.0,322.4 485.0,322.0 487.0,323.3 489.0,324.7 491.0,324.8 493.0,327.0 495.0,329.0 497.0,331.8 499.0,334.1 501.0,334.2 503.0,338.5 505.0,338.5 507.0,341.5 509.0,344.2 511.0,345.7 513.0,347.6 515.0,350.1 517.0,351.0 519.0,352.9" stroke-width="13.20"/><polyline points="519.0,352.9 521.0,355.5 523.0,359.1 525.0,359.7 527.0,364.4 529.0,364.1 531.0,361.8 533.0,367.2 535.0,372.0 537.0,371.7 539.0,373.0 541.0,374.4 543.0,379.3 545.0,380.7 547.0,382.1 549.0,383.5 551.0,386.6 553.0,387.2 555.0,385.9 557.0,390.0 559.0,390.5" stroke-width="13.20"/><polyline points="559.0,390.5 561.0,391.3 563.0,393.6 565.0,393.7 567.0,390.6 569.0,397.5 571.0,397.5 573.0,396.6 575.0,396.9 577.0,398.2 579.0,396.8 581.0,399.5 583.0,399.3 585.0,399.7 587.0,399.6 589.0,400.5 591.0,403.5 593.0,404.4 595.0,403.9 597.0,403.8 599.0,403.2" stroke-width="13.20"/><polyline points="599.0,403.2 601.0,406.0 603.0,407.7 605.0,403.9 607.0,408.2 609.0,404.2 611.0,407.3 613.0,408.9 615.0,407.2 617.0,407.7 619.0,410.7 621.0,412.5 623.0,411.6 625.0,415.1 627.0,413.2 629.0,417.8 631.0,416.7 633.0,418.0 635.0,419.8 637.0,420.8 639.0,424.4" stroke-width="13.09"/><polyline points="639.0,424.4 641.0,426.4 643.0,425.7 645.0,426.1 647.0,426.0 649.0,427.6 651.0,429.6 653.0,430.2 655.0,431.0 657.0,431.8 659.0,433.2 661.0,431.5 663.0,432.8 665.0,436.7 667.0,437.4 669.0,436.7 671.0,440.4 673.0,439.0 675.0,440.8 677.0,439.9 679.0,444.8" stroke-width="12.87"/><polyline points="679.0,444.8 681.0,444.8 683.0,447.5 685.0,448.2 687.0,448.6 689.0,449.9 691.0,452.4 693.0,451.6 695.0,452.5 697.0,453.7 699.0,455.4 701.0,456.3 703.0,458.4 705.0,456.4 707.0,458.9 709.0,457.1 711.0,459.7 713.0,459.9 715.0,463.0 717.0,462.5 719.0,462.0" stroke-width="12.64"/><polyline points="719.0,462.0 721.0,464.3 723.0,465.0 725.0,465.0 727.0,466.0 729.0,466.1 731.0,472.0 733.0,469.5 735.0,471.5 737.0,469.5 739.0,470.4 741.0,472.3 743.0,472.9 745.0,474.8 747.0,472.9 749.0,475.4 751.0,477.3 753.0,474.6 755.0,477.6 757.0,475.8 759.0,478.3" stroke-width="12.41"/><polyline points="759.0,478.3 761.0,479.1 763.0,481.7 765.0,479.3 767.0,481.3 769.0,483.4 771.0,481.3 773.0,483.9 775.0,483.8 777.0,485.1 779.0,488.1 781.0,489.2 783.0,492.8 785.0,492.1 787.0,492.8 789.0,491.5 791.0,492.0 793.0,493.2 795.0,490.5 797.0,496.4 799.0,494.0" stroke-width="12.19"/><polyline points="799.0,494.0 801.0,494.2 803.0,495.8 805.0,498.5 807.0,499.9 809.0,498.7 811.0,500.8 813.0,501.1 815.0,500.8 817.0,503.3 819.0,503.9 821.0,502.5 823.0,506.8 825.0,504.0 827.0,507.2 829.0,506.4 831.0,507.6 833.0,508.7 835.0,511.6 837.0,510.0 839.0,512.4" stroke-width="11.96"/><polyline points="839.0,512.4 841.0,515.7 843.0,513.5 845.0,515.3 847.0,517.0 849.0,516.1 851.0,518.3 853.0,517.5 855.0,520.0 857.0,519.8 859.0,519.1 861.0,522.8 863.0,521.3 865.0,521.6 867.0,521.2 869.0,522.3 871.0,523.2 873.0,524.0 875.0,525.6 877.0,523.0 879.0,524.6" stroke-width="11.79"/><polyline points="879.0,524.6 881.0,526.9 883.0,526.0 885.0,526.7 887.0,528.5 889.0,527.5 891.0,528.2 893.0,528.1 895.0,530.8 897.0,530.6 899.0,529.2 901.0,531.2 903.0,529.8 905.0,532.7 907.0,532.7 909.0,532.1 911.0,532.2 913.0,531.0 915.0,534.1 917.0,533.5 919.0,533.5" stroke-width="11.64"/><polyline points="919.0,533.5 921.0,534.9 923.0,533.6 925.0,533.9 927.0,534.0 929.0,533.5 931.0,537.5 933.0,535.1 935.0,535.1 937.0,536.5 939.0,532.6 941.0,535.9 943.0,536.1 945.0,535.2 947.0,536.8 949.0,534.6 951.0,536.7 953.0,537.7 955.0,535.1 957.0,536.1 959.0,537.5" stroke-width="11.48"/><polyline points="959.0,537.5 961.0,537.9 963.0,537.5 965.0,538.6 967.0,538.7 969.0,537.5 971.0,538.8 973.0,537.9 975.0,537.4 977.0,537.3 979.0,540.3 981.0,539.5 983.0,541.3 985.0,538.7 987.0,539.7 989.0,540.4 991.0,540.2 993.0,540.8 995.0,540.6 997.0,540.2 999.0,539.0" stroke-width="11.33"/><polyline points="999.0,539.0 1001.0,540.1 1003.0,542.2 1005.0,541.6 1007.0,542.2 1009.0,540.8 1011.0,541.3 1013.0,540.9 1015.0,542.0 1017.0,541.9 1019.0,542.3 1021.0,543.5 1023.0,541.7 1025.0,543.1 1027.0,541.6 1029.0,543.6 1031.0,542.6 1033.0,543.1 1035.0,543.4 1037.0,544.6 1039.0,543.5" stroke-width="11.18"/><polyline points="1039.0,543.5 1041.0,543.3 1043.0,542.9 1045.0,544.1 1047.0,543.3 1049.0,543.7 1051.0,544.1 1053.0,544.8 1055.0,543.8 1057.0,544.9 1059.0,545.8 1061.0,543.5 1063.0,545.7 1065.0,546.4 1067.0,544.4 1069.0,545.4 1071.0,544.0 1073.0,545.3 1075.0,544.9 1077.0,545.5 1079.0,544.6" stroke-width="11.09"/><polyline points="1079.0,544.6 1081.0,544.8 1083.0,545.1 1085.0,545.0 1087.0,545.2 1089.0,545.6 1091.0,545.0 1093.0,545.8 1095.0,546.4 1097.0,544.4 1099.0,546.4 1101.0,545.8 1103.0,545.6 1105.0,545.5 1107.0,546.0 1109.0,546.2 1111.0,547.1 1113.0,546.0 1115.0,547.8 1117.0,546.5 1119.0,547.7" stroke-width="11.06"/><polyline points="1119.0,547.7 1121.0,548.2 1123.0,546.5 1125.0,548.3 1127.0,549.3 1129.0,547.4 1131.0,548.3 1133.0,547.9 1135.0,548.1 1137.0,548.0 1139.0,547.9 1141.0,548.9 1143.0,549.1 1145.0,548.6 1147.0,549.8 1149.0,549.6 1151.0,549.4 1153.0,548.4 1155.0,550.5 1157.0,550.1 1159.0,547.6" stroke-width="11.04"/><polyline points="1159.0,547.6 1161.0,548.5 1163.0,549.1 1165.0,550.2 1167.0,550.5 1169.0,549.5 1171.0,550.0 1173.0,550.5 1175.0,549.1 1177.0,550.6 1179.0,550.1 1181.0,550.5 1183.0,550.5 1185.0,549.8 1187.0,550.1 1189.0,551.0 1191.0,551.2 1193.0,551.0 1195.0,552.2 1197.0,551.3 1199.0,550.8" stroke-width="11.01"/><polyline points="1199.0,550.8 1201.0,551.6 1203.0,551.9 1205.0,552.1 1207.0,553.2 1209.0,552.9 1211.0,553.4 1213.0,553.3 1215.0,552.9 1217.0,553.9 1219.0,553.1 1221.0,553.7 1223.0,552.9 1225.0,553.9 1227.0,553.8 1229.0,554.5 1231.0,555.8 1233.0,556.4 1235.0,555.6 1237.0,555.0 1239.0,555.8" stroke-width="10.99"/><polyline points="1239.0,555.8 1241.0,555.6 1243.0,555.2 1245.0,555.8 1247.0,555.9 1249.0,555.8 1251.0,557.5 1253.0,556.3 1255.0,556.5 1257.0,557.6 1259.0,556.8 1261.0,556.7 1263.0,557.1 1265.0,558.3 1267.0,558.4 1269.0,558.5 1271.0,558.1 1273.0,558.0 1275.0,559.5 1277.0,558.0 1279.0,559.1" stroke-width="10.96"/><polyline points="1279.0,559.1 1281.0,558.5 1283.0,559.4 1285.0,559.7 1287.0,561.0 1289.0,558.1 1291.0,561.4 1293.0,560.0 1295.0,561.0 1297.0,561.6 1299.0,560.6 1301.0,561.3 1303.0,561.9 1305.0,561.6 1307.0,561.3 1309.0,562.1 1311.0,562.2 1313.0,561.2 1315.0,563.4 1317.0,562.7 1319.0,560.9" stroke-width="10.94"/><polyline points="1319.0,560.9 1321.0,562.2 1323.0,564.2 1325.0,564.2 1327.0,563.4 1329.0,562.0 1331.0,563.2 1333.0,564.3 1335.0,563.9 1337.0,563.5 1339.0,563.3 1341.0,564.6 1343.0,563.9 1345.0,564.4 1347.0,564.6 1349.0,565.6 1351.0,564.6 1353.0,564.7 1355.0,563.3 1357.0,565.5" stroke-width="10.91"/></g>
<g fill="none" stroke="#008000" stroke-linejoin="round" stroke-linecap="round"><polyline points="199.0,202.3 201.0,202.7 203.0,205.2 205.0,207.2 207.0,209.3 209.0,209.0 211.0,209.2 213.0,209.9 215.0,213.1 217.0,215.4 219.0,214.6 221.0,213.6 223.0,215.1 225.0,219.6 227.0,218.7 229.0,217.1 231.0,220.4 233.0,220.1 235.0,221.9 237.0,223.3 239.0,224.2" stroke-width="13.20"/><polyline points="239.0,224.2 241.0,227.1 243.0,227.6 245.0,228.2 247.0,230.9 249.0,232.8 251.0,230.8 253.0,234.1 255.0,234.7 257.0,237.3 259.0,237.3 261.0,240.6 263.0,241.8 265.0,242.6 267.0,242.6 269.0,244.3 271.0,244.1 273.0,244.4 275.0,247.1 277.0,245.9 279.0,249.5" stroke-width="13.20"/><polyline points="279.0,249.5 281.0,249.5 283.0,246.4 285.0,250.0 287.0,248.8 289.0,250.9 291.0,251.5 293.0,249.2 295.0,251.9 297.0,252.1 299.0,254.0 301.0,251.2 303.0,254.0 305.0,251.6 307.0,252.7 309.0,252.1 311.0,255.2 313.0,254.0 315.0,256.3 317.0,253.5 319.0,253.3" stroke-width="13.20"/><polyline points="319.0,253.3 321.0,252.7 323.0,250.2 325.0,250.4 327.0,251.9 329.0,249.3 331.0,249.9 333.0,249.4 335.0,250.1 337.0,248.6 339.0,248.7 341.0,249.0 343.0,248.4 345.0,246.6 347.0,248.2 349.0,244.4 351.0,243.4 353.0,242.3 355.0,244.3 357.0,241.5 359.0,239.9" stroke-width="13.20"/><polyline points="359.0,239.9 361.0,238.9 363.0,240.4 365.0,237.8 367.0,236.8 369.0,238.7 371.0,235.5 373.0,235.9 375.0,235.3 377.0,233.6 379.0,232.9 381.0,233.4 383.0,229.5 385.0,227.1 387.0,224.9 389.0,225.8 391.0,224.2 393.0,223.7 395.0,221.3 397.0,219.9 399.0,218.2" stroke-width="13.20"/><polyline points="399.0,218.2 401.0,217.0 403.0,216.5 405.0,214.3 407.0,213.4 409.0,214.3 411.0,210.9 413.0,206.6 415.0,209.5 417.0,206.0 419.0,202.7 421.0,203.6 423.0,200.7 425.0,198.2 427.0,196.6 429.0,194.4 431.0,194.1 433.0,193.8 435.0,190.2 437.0,189.4 439.0,189.6" stroke-width="13.20"/><polyline points="439.0,189.6 441.0,183.5 443.0,183.5 445.0,180.8 447.0,177.8 449.0,175.9 451.0,175.4 453.0,174.3 455.0,171.4 457.0,170.7 459.0,170.1 461.0,168.1 463.0,167.5 465.0,165.8 467.0,164.8 469.0,165.7 471.0,163.3 473.0,161.8 475.0,161.9 477.0,159.1 479.0,159.3" stroke-width="13.20"/><polyline points="479.0,159.3 481.0,160.5 483.0,160.0 485.0,161.2 487.0,159.2 489.0,157.3 491.0,162.0 493.0,161.1 495.0,158.4 497.0,161.9 499.0,160.3 501.0,158.1 503.0,160.4 505.0,160.9 507.0,164.3 509.0,161.8 511.0,163.2 513.0,163.9 515.0,164.6 517.0,164.7 519.0,167.2" stroke-width="13.20"/><polyline points="519.0,167.2 521.0,169.4 523.0,169.9 525.0,168.9 527.0,169.6 529.0,172.2 531.0,172.0 533.0,172.8 535.0,172.1 537.0,177.7 539.0,176.9 541.0,175.0 543.0,178.2 545.0,179.6 547.0,175.3 549.0,178.7 551.0,179.8 553.0,182.1 555.0,182.0 557.0,182.6 559.0,183.5" stroke-width="13.20"/><polyline points="559.0,183.5 561.0,186.6 563.0,187.4 565.0,184.2 567.0,184.0 569.0,189.2 571.0,184.5 573.0,185.2 575.0,186.3 577.0,187.1 579.0,187.9 581.0,187.2 583.0,185.6 585.0,187.6 587.0,187.3 589.0,189.7 591.0,187.3 593.0,185.7 595.0,186.3 597.0,190.0 599.0,187.6" stroke-width="13.20"/><polyline points="599.0,187.6 601.0,185.8 603.0,188.2 605.0,189.4 607.0,191.4 609.0,189.0 611.0,191.9 613.0,192.7 615.0,191.4 617.0,192.6 619.0,195.6 621.0,195.9 623.0,195.0 625.0,194.5 627.0,195.8 629.0,194.4 631.0,194.7 633.0,194.1 635.0,195.7 637.0,196.2 639.0,200.7" stroke-width="13.09"/><polyline points="639.0,200.7 641.0,197.4 643.0,200.1 645.0,200.9 647.0,199.6 649.0,202.2 651.0,198.4 653.0,202.3 655.0,204.2 657.0,200.6 659.0,203.1 661.0,206.9 663.0,205.9 665.0,205.4 667.0,207.0 669.0,207.4 671.0,209.7 673.0,209.9 675.0,209.5 677.0,209.5 679.0,211.0" stroke-width="12.87"/><polyline points="679.0,211.0 681.0,213.6 683.0,212.9 685.0,214.1 687.0,213.8 689.0,213.0 691.0,214.5 693.0,217.1 695.0,217.1 697.0,216.4 699.0,216.2 701.0,219.2 703.0,219.3 705.0,220.0 707.0,220.7 709.0,222.3 711.0,223.0 713.0,224.7 715.0,225.5 717.0,226.8 719.0,226.9" stroke-width="12.64"/><polyline points="719.0,226.9 721.0,226.1 723.0,227.2 725.0,228.6 727.0,228.1 729.0,229.8 731.0,231.1 733.0,229.0 735.0,228.2 737.0,232.7 739.0,231.7 741.0,233.2 743.0,231.0 745.0,235.7 747.0,235.0 749.0,234.5 751.0,234.8 753.0,236.0 755.0,236.2 757.0,236.6 759.0,236.0" stroke-width="12.41"/><polyline points="759.0,236.0 761.0,239.8 763.0,238.5 765.0,239.2 767.0,239.8 769.0,237.2 771.0,241.8 773.0,241.5 775.0,242.5 777.0,244.1 779.0,243.8 781.0,247.3 783.0,246.3 785.0,246.9 787.0,247.7 789.0,249.7 791.0,251.1 793.0,249.9 795.0,249.2 797.0,253.3 799.0,251.0" stroke-width="12.19"/><polyline points="799.0,251.0 801.0,254.6 803.0,253.5 805.0,253.3 807.0,254.0 809.0,256.1 811.0,257.3 813.0,256.5 815.0,258.7 817.0,261.0 819.0,258.7 821.0,258.3 823.0,259.3 825.0,259.8 827.0,261.7 829.0,262.5 831.0,262.6 833.0,266.0 835.0,262.7 837.0,265.4 839.0,270.8" stroke-width="11.96"/><polyline points="839.0,270.8 841.0,270.4 843.0,270.5 845.0,271.3 847.0,273.9 849.0,273.1 851.0,273.2 853.0,272.3 855.0,274.6 857.0,274.5 859.0,275.3 861.0,276.0 863.0,277.6 865.0,278.0 867.0,280.2 869.0,278.1 871.0,280.2 873.0,283.4 875.0,281.7 877.0,283.7 879.0,284.1" stroke-width="11.79"/><polyline points="879.0,284.1 881.0,284.8 883.0,284.6 885.0,282.5 887.0,284.3 889.0,284.6 891.0,283.6 893.0,285.3 895.0,284.7 897.0,284.6 899.0,287.1 901.0,287.2 903.0,286.8 905.0,286.9 907.0,287.8 909.0,288.5 911.0,288.9 913.0,289.8 915.0,289.8 917.0,291.1 919.0,291.6" stroke-width="11.64"/><polyline points="919.0,291.6 921.0,291.7 923.0,290.9 925.0,291.3 927.0,292.6 929.0,292.2 931.0,292.6 933.0,290.4 935.0,290.4 937.0,293.8 939.0,294.0 941.0,295.4 943.0,295.0 945.0,294.7 947.0,294.8 949.0,293.6 951.0,295.9 953.0,294.6 955.0,295.8 957.0,295.6 959.0,295.7" stroke-width="11.48"/><polyline points="959.0,295.7 961.0,296.3 963.0,295.2 965.0,295.4 967.0,295.0 969.0,295.5 971.0,297.3 973.0,295.6 975.0,297.0 977.0,296.8 979.0,296.8 981.0,296.9 983.0,295.5 985.0,296.7 987.0,297.8 989.0,296.1 991.0,296.7 993.0,296.3 995.0,297.2 997.0,296.2 999.0,298.3" stroke-width="11.33"/><polyline points="999.0,298.3 1001.0,296.9 1003.0,296.2 1005.0,298.7 1007.0,298.2 1009.0,298.0 1011.0,298.1 1013.0,297.6 1015.0,297.9 1017.0,298.8 1019.0,299.1 1021.0,299.4 1023.0,299.0 1025.0,298.7 1027.0,299.1 1029.0,300.2 1031.0,300.6 1033.0,299.5 1035.0,299.5 1037.0,300.9 1039.0,300.6" stroke-width="11.18"/><polyline points="1039.0,300.6 1041.0,300.6 1043.0,299.2 1045.0,300.0 1047.0,299.9 1049.0,300.5 1051.0,299.2 1053.0,301.4 1055.0,300.7 1057.0,300.9 1059.0,299.7 1061.0,300.6 1063.0,301.7 1065.0,299.6 1067.0,301.1 1069.0,301.5 1071.0,300.5 1073.0,301.8 1075.0,301.1 1077.0,302.4 1079.0,302.0" stroke-width="11.09"/><polyline points="1079.0,302.0 1081.0,301.9 1083.0,303.4 1085.0,302.7 1087.0,303.3 1089.0,301.6 1091.0,302.1 1093.0,303.4 1095.0,303.6 1097.0,303.0 1099.0,303.8 1101.0,302.5 1103.0,303.6 1105.0,302.7 1107.0,303.9 1109.0,303.4 1111.0,303.4 1113.0,304.0 1115.0,305.5 1117.0,303.5 1119.0,303.9" stroke-width="11.06"/><polyline points="1119.0,303.9 1121.0,305.2 1123.0,304.2 1125.0,305.9 1127.0,304.9 1129.0,304.9 1131.0,305.1 1133.0,306.3 1135.0,305.5 1137.0,305.5 1139.0,305.4 1141.0,304.1 1143.0,304.7 1145.0,306.5 1147.0,306.1 1149.0,305.9 1151.0,306.1 1153.0,305.3 1155.0,306.1 1157.0,305.2 1159.0,306.3" stroke-width="11.04"/><polyline points="1159.0,306.3 1161.0,305.6 1163.0,306.1 1165.0,306.7 1167.0,306.3 1169.0,307.2 1171.0,307.2 1173.0,307.3 1175.0,308.1 1177.0,306.2 1179.0,306.3 1181.0,308.1 1183.0,308.5 1185.0,309.5 1187.0,308.8 1189.0,309.0 1191.0,307.9 1193.0,309.3 1195.0,309.4 1197.0,308.4 1199.0,308.7" stroke-width="11.01"/><polyline points="1199.0,308.7 1201.0,309.5 1203.0,310.0 1205.0,307.8 1207.0,310.3 1209.0,310.6 1211.0,310.5 1213.0,311.0 1215.0,311.3 1217.0,310.3 1219.0,311.5 1221.0,311.2 1223.0,310.8 1225.0,311.7 1227.0,312.7 1229.0,310.6 1231.0,310.6 1233.0,310.6 1235.0,313.4 1237.0,311.8 1239.0,312.0" stroke-width="10.99"/><polyline points="1239.0,312.0 1241.0,311.5 1243.0,311.5 1245.0,310.8 1247.0,312.5 1249.0,312.7 1251.0,311.2 1253.0,312.0 1255.0,312.4 1257.0,313.1 1259.0,313.5 1261.0,314.3 1263.0,314.7 1265.0,314.7 1267.0,315.1 1269.0,313.5 1271.0,314.1 1273.0,315.6 1275.0,315.2 1277.0,315.2 1279.0,313.9" stroke-width="10.96"/><polyline points="1279.0,313.9 1281.0,314.2 1283.0,316.4 1285.0,316.3 1287.0,316.0 1289.0,316.1 1291.0,315.4 1293.0,317.1 1295.0,317.8 1297.0,318.5 1299.0,317.5 1301.0,317.5 1303.0,317.1 1305.0,319.0 1307.0,319.5 1309.0,318.0 1311.0,318.9 1313.0,318.9 1315.0,318.6 1317.0,317.3 1319.0,319.1" stroke-width="10.94"/><polyline points="1319.0,319.1 1321.0,320.0 1323.0,318.6 1325.0,319.3 1327.0,317.6 1329.0,321.2 1331.0,320.8 1333.0,320.6 1335.0,320.5 1337.0,320.5 1339.0,321.1 1341.0,321.1 1343.0,321.3 1345.0,321.7 1347.0,322.0 1349.0,323.3 1351.0,321.2 1353.0,322.7 1355.0,322.3 1357.0,322.1" stroke-width="10.91"/></g>
<rect x="171" y="57.5" width="1214" height="904.5" fill="none" stroke="#000" stroke-width="6"/>
<rect x="194.3" y="953" width="5" height="7" fill="#000"/>
<rect x="323.5" y="944" width="5" height="16" fill="#000"/>
<rect x="452.7" y="953" width="5" height="7" fill="#000"/>
<rect x="581.9" y="944" width="5" height="16" fill="#000"/>
<rect x="711.1" y="953" width="5" height="7" fill="#000"/>
<rect x="840.2" y="944" width="5" height="16" fill="#000"/>
<rect x="969.4" y="953" width="5" height="7" fill="#000"/>
<rect x="1098.6" y="944" width="5" height="16" fill="#000"/>
<rect x="1227.8" y="953" width="5" height="7" fill="#000"/>
<rect x="1357.0" y="944" width="5" height="16" fill="#000"/>
<text x="326.0" y="1052.5" text-anchor="middle" font-size="95">10</text>
<text x="584.4" y="1052.5" text-anchor="middle" font-size="95">20</text>
<text x="842.8" y="1052.5" text-anchor="middle" font-size="95">30</text>
<text x="1101.1" y="1052.5" text-anchor="middle" font-size="95">40</text>
<text x="1359.5" y="1052.5" text-anchor="middle" font-size="95">50</text>
<text x="882.5" y="271.0" font-size="70" letter-spacing="-0.4">HCP-0.08/PI</text>
<text x="896.3" y="512.5" font-size="70" letter-spacing="-0.4">HCP-0.06/PI</text>
<text x="890.3" y="647.0" font-size="70" letter-spacing="-0.4">HCP-0.04/PI</text>
<text x="899.3" y="756.5" font-size="70" letter-spacing="-0.4">HCP-0.02/PI</text>
<text x="1046.0" y="883.0" font-size="70" letter-spacing="-0.4">PI</text>
<text transform="translate(106,805) rotate(-90)" font-size="93" letter-spacing="0.18">Intensity (a.u.)</text>
<text x="526.4" y="1131" font-size="94" letter-spacing="-0.8"><tspan font-style="italic">2Theta</tspan> (degree)</text>
</svg>
</div>
</body></html>
